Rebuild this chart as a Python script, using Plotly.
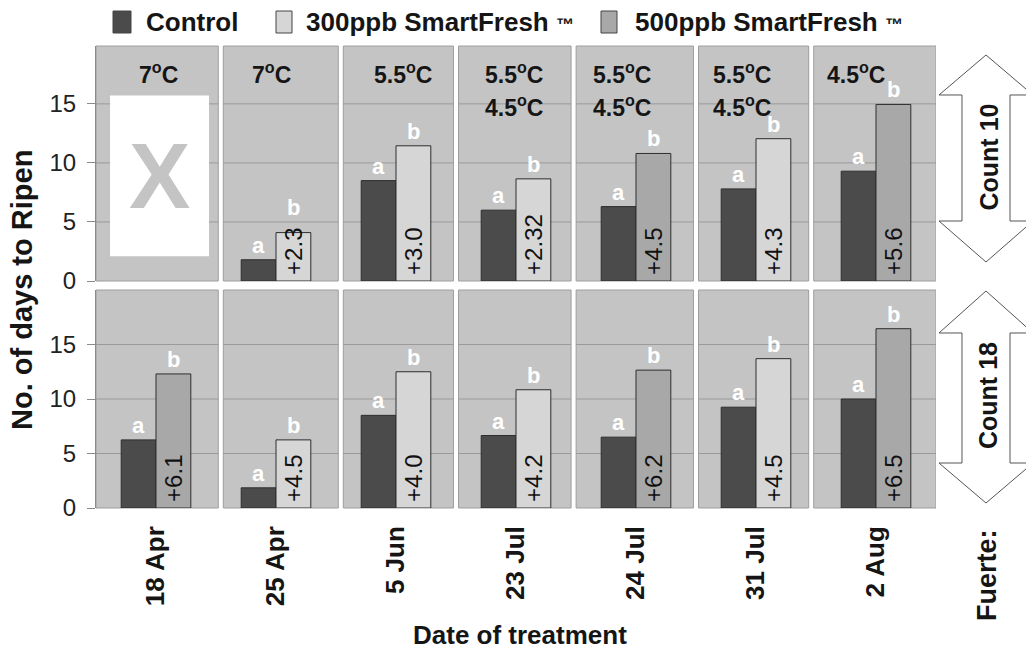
import plotly.graph_objects as go

# ---------------- data ----------------
dates = ["18 Apr", "25 Apr", "5 Jun", "23 Jul", "24 Jul", "31 Jul", "2 Aug"]

# Count 10 (top panel)
c10_control = [None, 1.8, 8.5, 6.0, 6.3, 7.8, 9.3]
c10_ppb300 = [None, 4.1, 11.45, 8.65, None, 12.05, None]
c10_ppb500 = [None, None, None, None, 10.8, None, 14.95]
c10_gain = [None, "+2.3", "+3.0", "+2.32", "+4.5", "+4.3", "+5.6"]

# Count 18 (bottom panel)
c18_control = [6.25, 1.85, 8.5, 6.65, 6.5, 9.25, 10.0]
c18_ppb300 = [None, 6.25, 12.5, 10.85, None, 13.7, None]
c18_ppb500 = [12.3, None, None, None, 12.65, None, 16.45]
c18_gain = ["+6.1", "+4.5", "+4.0", "+4.2", "+6.2", "+4.5", "+6.5"]

temp_line1 = ["7°C", "7°C", "5.5°C", "5.5°C", "5.5°C", "5.5°C", "4.5°C"]
temp_line2 = ["", "", "", "4.5°C", "4.5°C", "4.5°C", ""]

y_ticks = [0, 5, 10, 15]
series_names = ["Control", "300ppb SmartFresh ™", "500ppb SmartFresh ™"]
panel_labels = ["Count 10", "Count 18"]

# ---------------- style ----------------
FONT = "Liberation Sans, Arial, sans-serif"
C_CTRL = "#4b4b4b"
C_300 = "#d6d6d6"
C_500 = "#a8a8a8"
PANEL = "#c4c4c4"
BOX_LINE = "#9e9e9e"
GRID = "#9a9a9a"
OUTLINE = "#2e2e2e"
TXT = "#151515"
BAR_W = 0.29
GAP = 0.021
GAIN_SIZE = 24
group_edges = [-0.5, 0.54, 1.54, 2.5, 3.48, 4.5, 5.46, 6.5]
temp_dx = [0.02, -0.04, 0.06, -0.02, -0.12, -0.12, -0.17]

OFF = 8  # page body margin
W, H = 1034 - OFF, 648 - OFF
ML, MT = 96 - OFF, 46 - OFF
MR = W - (936 - OFF)
MB = H - (508 - OFF)
PW, PH = W - ML - MR, H - MT - MB


def PX(x):  # page pixel -> paper
    return (x - OFF - ML) / PW


def PY(y):
    return (H - MB - (y - OFF)) / PH


def deg(s):
    return s.replace("°", "<sup>o</sup>")


fig = go.Figure()

panels = [
    ("x", "y", c10_control, c10_ppb300, c10_ppb500, c10_gain, [PY(281), 1.0], 19.9),
    ("x2", "y2", c18_control, c18_ppb300, c18_ppb500, c18_gain, [0, PY(290)], 20.0),
]

shapes = []
annotations = []

for xa, ya, ctrl, p300, p500, gain, dom, ymax in panels:
    px_per_unit = (dom[1] - dom[0]) * PH / ymax
    fig.add_bar(x=dates, y=ctrl, xaxis=xa, yaxis=ya, offset=-BAR_W, width=BAR_W,
                marker=dict(color=C_CTRL, line=dict(color=OUTLINE, width=1)),
                name=series_names[0], showlegend=False)
    fig.add_bar(x=dates, y=p300, xaxis=xa, yaxis=ya, offset=0, width=BAR_W,
                marker=dict(color=C_300, line=dict(color=OUTLINE, width=1)),
                name=series_names[1], showlegend=False)
    fig.add_bar(x=dates, y=p500, xaxis=xa, yaxis=ya, offset=0, width=BAR_W,
                marker=dict(color=C_500, line=dict(color=OUTLINE, width=1)),
                name=series_names[2], showlegend=False)

    for i in range(len(dates)):
        x0 = group_edges[i] + (GAP if i > 0 else 0)
        x1 = group_edges[i + 1] - (GAP if i < len(dates) - 1 else 0)
        shapes.append(dict(type="rect", xref=xa, yref=ya + " domain", x0=x0, x1=x1,
                           y0=0, y1=1, fillcolor=PANEL,
                           line=dict(color=BOX_LINE, width=1), layer="below"))
        for t in y_ticks[1:]:
            shapes.append(dict(type="line", xref=xa, yref=ya, x0=x0, x1=x1, y0=t, y1=t,
                               line=dict(color=GRID, width=1), layer="below"))

    for i in range(len(dates)):
        treated = p300[i] if p300[i] is not None else p500[i]
        if ctrl[i] is not None:
            annotations.append(dict(xref=xa, yref=ya, x=i - BAR_W / 2, y=ctrl[i],
                                    text="a", showarrow=False, xanchor="center",
                                    yanchor="bottom",
                                    font=dict(family=FONT, size=22, color="white",
                                              weight="bold")))
        if treated is not None:
            # lift the letter when the rotated gain text pokes out of a short bar
            text_px = 0.55 * GAIN_SIZE * len(gain[i] or "") + 6
            lift = max(0.0, text_px - treated * px_per_unit)
            annotations.append(dict(xref=xa, yref=ya, x=i + BAR_W / 2, y=treated,
                                    text="b", showarrow=False, xanchor="center",
                                    yanchor="bottom", yshift=lift,
                                    font=dict(family=FONT, size=22, color="white",
                                              weight="bold")))
        if gain[i]:
            annotations.append(dict(xref=xa, yref=ya, x=i + BAR_W / 2, y=0,
                                    text=gain[i], showarrow=False, xanchor="center",
                                    yanchor="bottom", textangle=-90, yshift=4,
                                    font=dict(family=FONT, size=GAIN_SIZE, color="#111")))

# white "X" box for the missing 18 Apr / Count 10 treatment
shapes.append(dict(type="rect", xref="x", yref="y", x0=-0.383, x1=0.442, y0=2.1, y1=15.7,
                   fillcolor="white", line=dict(width=0), layer="below"))
annotations.append(dict(xref="x", yref="y", x=0.025, y=8.9, text="X", showarrow=False,
                        xanchor="center", yanchor="middle",
                        font=dict(family=FONT, size=92, color=PANEL, weight="bold")))

# temperature labels
for i in range(len(dates)):
    annotations.append(dict(xref="x", yref="y", x=i + temp_dx[i], y=17.6,
                            text=deg(temp_line1[i]), showarrow=False,
                            xanchor="center", yanchor="middle",
                            font=dict(family=FONT, size=23, color=TXT, weight="bold")))
    if temp_line2[i]:
        annotations.append(dict(xref="x", yref="y", x=i + temp_dx[i], y=14.85,
                                text=deg(temp_line2[i]), showarrow=False,
                                xanchor="center", yanchor="middle",
                                font=dict(family=FONT, size=23, color=TXT, weight="bold")))

# double arrows with panel labels (page pixel geometry)
arrows = [(55, 95, 221, 262), (291, 333, 463, 503)]
cx, hw, sw = 986, 47, 24
for (tip, hb, sb, btm), lab in zip(arrows, panel_labels):
    pts = [(cx, tip), (cx + hw, hb), (cx + sw, hb), (cx + sw, sb), (cx + hw, sb),
           (cx, btm), (cx - hw, sb), (cx - sw, sb), (cx - sw, hb), (cx - hw, hb)]
    path = "M " + " L ".join(f"{PX(a):.5f},{PY(b):.5f}" for a, b in pts) + " Z"
    shapes.append(dict(type="path", xref="paper", yref="paper", path=path,
                       fillcolor="white", line=dict(color="#555555", width=1)))
    annotations.append(dict(xref="paper", yref="paper", x=PX(988), y=PY((tip + btm) / 2 - 1),
                            xanchor="center", yanchor="middle",
                            text=lab, textangle=-90, showarrow=False,
                            font=dict(family=FONT, size=25, color=TXT, weight="bold")))

# legend (manual, to match the tall swatches)
leg_sq = [(113, 131), (276, 292), (601, 617)]
leg_tx = [144, 304, 633]
leg_col = [C_CTRL, C_300, C_500]
for (a, b), tx, col, name in zip(leg_sq, leg_tx, leg_col, series_names):
    shapes.append(dict(type="rect", xref="paper", yref="paper", x0=PX(a), x1=PX(b),
                       y0=PY(33), y1=PY(11), fillcolor=col,
                       line=dict(color="#444444", width=1)))
    label = name.replace("™", "<span style='font-size:18px'>™</span>")
    annotations.append(dict(xref="paper", yref="paper", x=PX(tx), y=PY(22),
                            xanchor="left", yanchor="middle", text=label, showarrow=False,
                            font=dict(family=FONT, size=26, color=TXT, weight="bold")))

# titles
annotations.append(dict(xref="paper", yref="paper", x=PX(22), y=PY(290),
                        xanchor="center", yanchor="middle",
                        text="No. of days to Ripen", textangle=-90, showarrow=False,
                        font=dict(family=FONT, size=29, color=TXT, weight="bold")))
annotations.append(dict(xref="paper", yref="paper", x=PX(520), y=PY(635),
                        xanchor="center", yanchor="middle",
                        text="Date of treatment", showarrow=False,
                        font=dict(family=FONT, size=26, color=TXT, weight="bold")))
annotations.append(dict(xref="paper", yref="paper", x=PX(987), y=PY(575),
                        xanchor="center", yanchor="middle",
                        text="Fuerte:", textangle=-90, showarrow=False,
                        font=dict(family=FONT, size=27, color=TXT, weight="bold")))

yax = dict(tickvals=y_ticks, showgrid=False, zeroline=False,
           ticks="outside", ticklen=8, tickcolor="#8a8a8a", showline=True,
           linecolor="#8a8a8a", linewidth=1, ticklabelstandoff=6,
           tickfont=dict(family=FONT, size=24, color="#222"))
xax = dict(type="category", categoryarray=dates, range=[-0.5, 6.5], showgrid=False,
           zeroline=False, showline=False, ticks="")

fig.update_layout(
    width=W, height=H, autosize=False,
    margin=dict(l=ML, r=MR, t=MT, b=MB),
    paper_bgcolor="white", plot_bgcolor="white",
    barmode="overlay", showlegend=False,
    font=dict(family=FONT, color=TXT),
    xaxis=dict(xax, anchor="y", showticklabels=False),
    xaxis2=dict(xax, anchor="y2", tickangle=-90, ticklabelstandoff=12,
                tickfont=dict(family=FONT, size=26, color=TXT, weight="bold")),
    yaxis=dict(yax, domain=panels[0][6], range=[0, panels[0][7]], anchor="x"),
    yaxis2=dict(yax, domain=panels[1][6], range=[0, panels[1][7]], anchor="x2"),
    shapes=shapes,
    annotations=annotations,
)

fig.write_html("out.html")
